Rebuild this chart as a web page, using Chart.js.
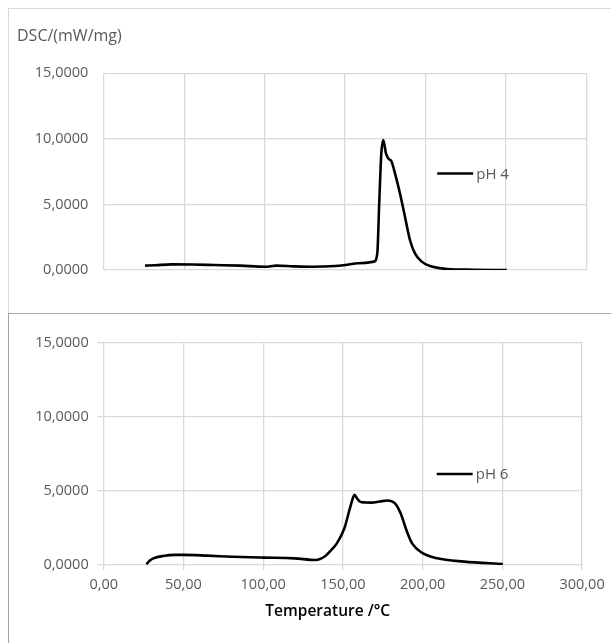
<!DOCTYPE html>
<html>
<head>
<meta charset="utf-8">
<script src="https://cdn.jsdelivr.net/npm/chart.js@4.4.0/dist/chart.umd.min.js"></script>
<style>
  html, body { margin: 0; padding: 0; background: #fff; }
  body { width: 611px; height: 643px; position: relative; overflow: hidden; }
  #topBox { position: absolute; left: 8px; top: 8px; width: 603px; height: 305px;
            border-left: 1px solid #d9d9d9; border-top: 1px solid #d9d9d9; box-sizing: border-box; }
  #botBox { position: absolute; left: 8px; top: 313px; width: 603px; height: 330px;
            border-left: 1px solid #a6a6a6; border-top: 1px solid #a6a6a6; box-sizing: border-box; }
  canvas { display: block; }
</style>
</head>
<body>
<div id="topBox"><canvas id="chartPH4" width="602" height="304"></canvas></div>
<div id="botBox"><canvas id="chartPH6" width="602" height="329"></canvas></div>
<script>
// 데이터
var tempPH4 = [25.7, 32, 42, 55, 68.7, 85, 100.2, 107.5, 118, 129.3, 143.8, 150.1, 158.3, 168, 170, 171.2, 172.5, 173.7, 175.4, 176.8, 178.9, 181, 184.1, 187.2, 190.3, 193.4, 197.6, 202.7, 213.1, 229.6, 250.4];
var dscPH4 = [0.33, 0.36, 0.43, 0.42, 0.38, 0.33, 0.25, 0.33, 0.28, 0.25, 0.30, 0.38, 0.51, 0.64, 1.27, 5.08, 8.89, 9.91, 8.89, 8.51, 8.26, 7.37, 5.84, 4.06, 2.29, 1.27, 0.64, 0.30, 0.08, 0.02, 0];

var tempPH6 = [26.8, 29, 31.2, 37.3, 45, 49.4, 65, 80.8, 100.2, 119.6, 132.9, 139, 142.7, 146.2, 151, 154.7, 157.3, 158.8, 160.7, 164, 168, 173, 177.7, 182.5, 186.2, 189.8, 193.4, 199.5, 209.2, 226.1, 250.3];
var dscPH6 = [0.05, 0.30, 0.45, 0.61, 0.68, 0.68, 0.63, 0.56, 0.50, 0.45, 0.34, 0.61, 1.01, 1.46, 2.50, 3.94, 4.73, 4.50, 4.28, 4.22, 4.21, 4.28, 4.35, 4.17, 3.49, 2.36, 1.46, 0.83, 0.45, 0.23, 0.07];

var xTickLabels = ['0,00', '50,00', '100,00', '150,00', '200,00', '250,00', '300,00'];
var yTickLabels = ['0,0000', '5,0000', '10,0000', '15,0000'];
var seriesNames = ['pH 4', 'pH 6'];
var yTitle = 'DSC/(mW/mg)';
var xTitle = 'Temperature /°C';

var FONT = "'Open Sans', 'DejaVu Sans', sans-serif";
var GRAY = '#595959';
var GRID = '#d9d9d9';

function toPoints(xs, ys) {
	var pts = [];
	for (var i = 0; i < xs.length; i++) {
		pts.push({ x : xs[i], y : ys[i] });
	}
	return pts;
}

// 차트 영역 안에 범례 그리기
var insideLegend = {
	id : 'insideLegend',
	afterDatasetsDraw : function(chart, args, opts) {
		var ctx = chart.ctx;
		var area = chart.chartArea;
		var x0 = area.left + opts.dx;
		var y0 = area.top + opts.dy;
		ctx.save();
		ctx.strokeStyle = '#000';
		ctx.lineWidth = 2.6;
		ctx.beginPath();
		ctx.moveTo(x0, y0);
		ctx.lineTo(x0 + 36, y0);
		ctx.stroke();
		ctx.fillStyle = GRAY;
		ctx.font = '15px ' + FONT;
		ctx.textBaseline = 'middle';
		ctx.textAlign = 'left';
		ctx.fillText(opts.text, x0 + 39, y0 + 1);
		if (opts.axisTitle) {
			ctx.fillStyle = '#000';
			ctx.font = '600 15.5px ' + FONT;
			ctx.textAlign = 'center';
			ctx.fillText(opts.axisTitle, area.left + 224, area.bottom + 47);
		}
		ctx.restore();
	}
};

function makeOptions(isBottom, yWidth) {
	return {
		responsive : false,
		animation : false,
		devicePixelRatio : 1,
		layout : {
			padding : isBottom ? { left : 0, right : 24.5, top : 28.7, bottom : 0 }
					: { left : 8, right : 24.5, top : 0, bottom : 0 }
		},
		plugins : {
			legend : { display : false },
			tooltip : { enabled : false },
			title : {
				display : !isBottom,
				text : yTitle,
				align : 'start',
				color : GRAY,
				font : { family : FONT, size : 16, weight : 'normal' },
				padding : { top : 17.9, bottom : 27.2 }
			},
			insideLegend : isBottom ? { dx : 333, dy : 131.3, text : seriesNames[1], axisTitle : xTitle }
					: { dx : 333.5, dy : 100.2, text : seriesNames[0] }
		},
		scales : {
			x : {
				type : 'linear',
				min : 0,
				max : 300,
				afterBuildTicks : function(scale) {
					scale.ticks = xTickLabels.map(function(l, i) { return { value : i * 50 }; });
				},
				afterFit : function(scale) {
					scale.height = isBottom ? 78 : 43;
				},
				border : { display : false },
				grid : { color : GRID, lineWidth : 1.3, drawTicks : isBottom, tickLength : 5 },
				ticks : {
					display : isBottom,
					color : GRAY,
					padding : 6.3,
					maxRotation : 0,
					font : { family : FONT, size : 14.5 },
					callback : function(v, i) { return xTickLabels[i]; }
				}
			},
			y : {
				min : 0,
				max : 15,
				afterBuildTicks : function(scale) {
					scale.ticks = yTickLabels.map(function(l, i) { return { value : i * 5 }; });
				},
				afterFit : function(scale) {
					scale.width = yWidth;
				},
				border : { display : false },
				grid : { color : GRID, lineWidth : 1.3, drawTicks : isBottom, tickLength : 6 },
				ticks : {
					color : GRAY,
					padding : isBottom ? 9 : 15.4,
					font : { family : FONT, size : 14.5 },
					callback : function(v, i) { return yTickLabels[i]; }
				}
			}
		}
	};
}

function makeDataset(name, xs, ys) {
	return {
		label : name,
		data : toPoints(xs, ys),
		borderColor : '#000',
		borderWidth : 2.6,
		pointRadius : 0,
		cubicInterpolationMode : 'monotone',
		fill : false
	};
}

var chartPH4 = new Chart(document.getElementById('chartPH4'), {
	type : 'line',
	data : { datasets : [ makeDataset(seriesNames[0], tempPH4, dscPH4) ] },
	options : makeOptions(false, 86.7),
	plugins : [ insideLegend ]
});

var chartPH6 = new Chart(document.getElementById('chartPH6'), {
	type : 'line',
	data : { datasets : [ makeDataset(seriesNames[1], tempPH6, dscPH6) ] },
	options : makeOptions(true, 94.7),
	plugins : [ insideLegend ]
});
</script>
</body>
</html>
